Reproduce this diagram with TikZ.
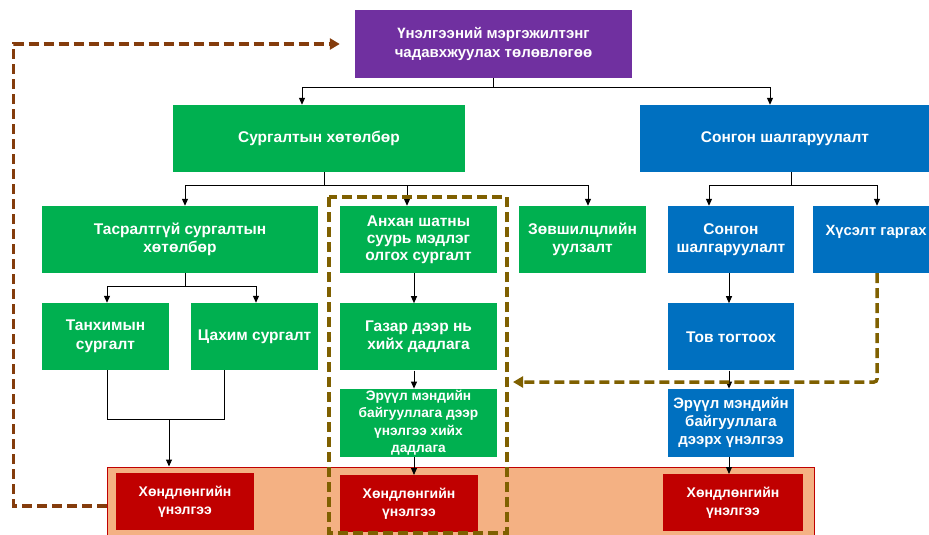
\documentclass[tikz,border=0pt]{standalone}
\usepackage{fontspec}
\setmainfont{Liberation Sans}
\usetikzlibrary{arrows.meta,shapes}
\usetikzlibrary{positioning}
\definecolor{planfill}{HTML}{7030A0}
\definecolor{trainfill}{HTML}{00B050}
\definecolor{selfill}{HTML}{0070C0}
\definecolor{evalfill}{HTML}{C00000}
\definecolor{panelfill}{HTML}{F4B183}
\definecolor{loopcol}{HTML}{843C0C}
\definecolor{focuscol}{HTML}{7F6000}
\tikzstyle{box}=[rectangle, inner sep=0pt, minimum height=67pt, align=center,
text=white, font=\bfseries\fontsize{15.5}{18.5}\selectfont]
\tikzstyle{planbox}=[box, fill=planfill, font=\bfseries\fontsize{15}{19}\selectfont]
\tikzstyle{trainbox}=[box, fill=trainfill]
\tikzstyle{selbox}=[box, fill=selfill]
\tikzstyle{evalbox}=[box, fill=evalfill, minimum width=138pt, minimum height=57pt,
font=\bfseries\fontsize{14}{18}\selectfont]
\tikzstyle{panel}=[rectangle, fill=panelfill, draw=evalfill, line width=1pt]
\tikzstyle{myline}=[line width=1pt]
\tikzstyle{myarrow}=[myline, -{Triangle[length=7pt, width=6pt]}]
\tikzstyle{loopback}=[loopcol, line width=3.5pt, dash pattern=on 10pt off 5pt,
-{Triangle[length=10pt, width=11pt]}]
\tikzstyle{focus}=[focuscol, line width=3.5pt, dash pattern=on 10pt off 5pt]
\tikzstyle{feedback}=[focus, rounded corners=3pt, -{Triangle[length=10pt, width=11pt]}]

\begin{document}
\begin{tikzpicture}[x=1pt, y=-1pt]
    \useasboundingbox (0,0) rectangle (929,535);

    \node[planbox, minimum width=277pt, minimum height=68pt] (plan) at (493.5,44)
        {Үнэлгээний мэргэжилтэнг\\чадавхжуулах төлөвлөгөө};

    \node[trainbox, minimum width=292pt] (prog) at (319,138.5) {Сургалтын хөтөлбөр};
    \node[selbox, minimum width=290pt] (select) at (785,138.5) {Сонгон шалгаруулалт};

    \coordinate (plansplit) at (493,87);
    \draw[myline] (plan.south -| plansplit) -- (plansplit);
    \draw[myarrow] (plansplit) -| ([xshift=-17pt]prog.north);
    \draw[myarrow] (plansplit) -| ([xshift=-15pt]select.north);

    % second row
    \node[trainbox, minimum width=276pt] (cont) at (180,239.5) {Тасралтгүй сургалтын\\хөтөлбөр};
    \node[trainbox, minimum width=157pt, font=\bfseries\fontsize{15.5}{17}\selectfont] (basic)
        at (418.5,239.5) {Анхан шатны\\суурь мэдлэг\\олгох сургалт};
    \node[trainbox, minimum width=127pt] (consult) at (582.5,239.5) {Зөвшилцлийн\\уулзалт};
    \node[selbox, minimum width=126pt] (sel) at (731,239.5) {Сонгон\\шалгаруулалт};
    \node[selbox, minimum width=126pt, font=\bfseries\fontsize{14.8}{18.5}\selectfont] (request)
        at (876,239.5) {Хүсэлт гаргах\\\mbox{}};

    \coordinate (progsplit) at (324,185);
    \draw[myline] (prog.south -| progsplit) -- (progsplit);
    \draw[myarrow] (progsplit) -| ([xshift=5pt]cont.north);
    \draw[myarrow] (progsplit) -| ([xshift=-11.5pt]basic.north);
    \draw[myarrow] (progsplit) -| ([xshift=5.5pt]consult.north);

    \coordinate (selsplit) at (791,185);
    \draw[myline] (select.south -| selsplit) -- (selsplit);
    \draw[myarrow] (selsplit) -| ([xshift=-22pt]sel.north);
    \draw[myarrow] (selsplit) -| ([xshift=1pt]request.north);

    % third row
    \node[trainbox, minimum width=127pt] (class) at (105.5,336.5) {Танхимын\\сургалт};
    \node[trainbox, minimum width=127pt] (online) at (254.5,336.5) {Цахим сургалт};

    \coordinate (contsplit) at (185,286);
    \draw[myline] (cont.south -| contsplit) -- (contsplit);
    \draw[myarrow] (contsplit) -| ([xshift=1.5pt]class.north);
    \draw[myarrow] (contsplit) -| ([xshift=1.5pt]online.north);

    \node[trainbox, minimum width=157pt, below=30pt of basic] (field) {Газар дээр нь\\хийх дадлага};
    \node[trainbox, minimum width=157pt, minimum height=68pt, below=18pt of field,
        font=\bfseries\fontsize{13.7}{17.3}\selectfont] (hospital)
        {Эрүүл мэндийн\\байгууллага дээр\\үнэлгээ хийх\\дадлага};

    \node[selbox, minimum width=126pt, below=30pt of sel] (decide) {Тов тогтоох};
    \node[selbox, minimum width=126pt, minimum height=68pt, below=18pt of decide,
        font=\bfseries\fontsize{15}{18}\selectfont] (hospsel)
        {Эрүүл мэндийн\\байгууллага\\дээрх үнэлгээ};

    % external evaluation
    \node[panel, minimum width=707pt, minimum height=78pt] (external) at (460.5,506) {};
    \node[evalbox] (eval1) at (185,501.5) {Хөндлөнгийн\\үнэлгээ};
    \node[evalbox, below=18pt of hospital.south west, anchor=north west] (eval2) {Хөндлөнгийн\\үнэлгээ};
    \node[evalbox, minimum width=140pt, below=17pt of hospsel, xshift=2pt] (eval3) {Хөндлөнгийн\\үнэлгээ};

    \coordinate (classjoin) at (169,419);
    \draw[myline] ([xshift=1.5pt]class.south) |- (classjoin);
    \draw[myline] ([xshift=-30.5pt]online.south) |- (classjoin);
    \draw[myarrow] (classjoin) -- (classjoin |- external.north);

    \draw[myarrow] ([xshift=-4.5pt]basic.south) -- ([xshift=-4.5pt]field.north);
    \draw[myarrow] ([xshift=-4.5pt]field.south) -- ([xshift=-4.5pt]hospital.north);
    \draw[myarrow] ([xshift=-4.5pt]hospital.south) -- ([xshift=5pt]eval2.north);

    \draw[myarrow] ([xshift=-2pt]sel.south) -- ([xshift=-2pt]decide.north);
    \draw[myarrow] ([xshift=-2pt]decide.south) -- ([xshift=-2pt]hospsel.north);
    \draw[myarrow] ([xshift=-2pt]hospsel.south) -- ([xshift=-4pt]eval3.north);

    % dashed frames and loops
    \draw[focus] (329,197) rectangle (507,533);
    \coordinate (feedbackend) at (513,382);
    \draw[feedback] ([xshift=1pt]request.south) |- (feedbackend);
    \draw[loopback] (external.west) -- ++(-93,0) |- ([xshift=-15pt]plan.west);
\end{tikzpicture}
\end{document}
